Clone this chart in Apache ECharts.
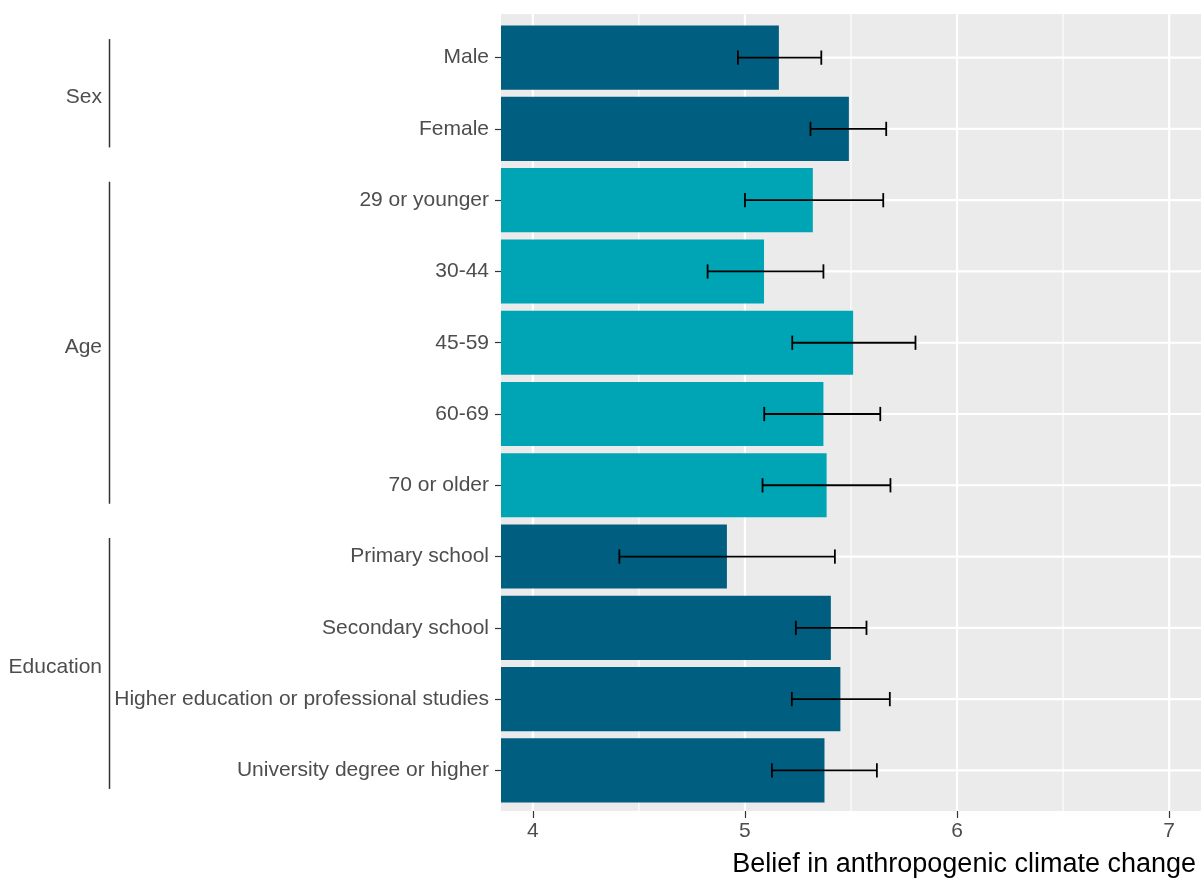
<!DOCTYPE html>
<html>
<head>
<meta charset="utf-8">
<script src="https://cdn.jsdelivr.net/npm/echarts@6/dist/echarts.min.js"></script>
<style>
html,body{margin:0;padding:0;background:#fff;}
#chart{width:1201px;height:878px;}
</style>
</head>
<body>
<div id="chart"></div>
<script>
// ---- data ----
const categories = ["Male","Female","29 or younger","30-44","45-59","60-69","70 or older","Primary school","Secondary school","Higher education or professional studies","University degree or higher"];
const groupOfCategory = ["Sex","Sex","Age","Age","Age","Age","Age","Education","Education","Education","Education"];
const meanValues = [5.16, 5.49, 5.32, 5.09, 5.51, 5.37, 5.385, 4.915, 5.405, 5.45, 5.375];
const lowerCI   = [4.967, 5.309, 5.00, 4.824, 5.223, 5.091, 5.083, 4.408, 5.240, 5.221, 5.127];
const upperCI   = [5.360, 5.666, 5.652, 5.370, 5.804, 5.638, 5.686, 5.424, 5.573, 5.683, 5.622];
const groups = ["Sex","Age","Education"];
const xTickValues = [4,5,6,7];
const xMinorValues = [4.5,5.5,6.5];
const xMin = 3.85, xMax = 7.15;
const xTitle = "Belief in anthropogenic climate change";

const groupColors = {"Sex":"#005F80","Age":"#00A5B5","Education":"#005F80"};
const FONT = "Liberation Sans, Arial, sans-serif";

const chart = echarts.init(document.getElementById('chart'), null, {renderer:'canvas'});

const option = {
  animation: false,
  backgroundColor: '#ffffff',
  title: {
    text: xTitle, right: 0, top: 846,
    textStyle: {fontFamily: FONT, fontSize: 27, fontWeight: 'normal', color: '#000'}
  },
  grid: [
    {left: 501, right: 0, top: 14, height: 797, show: true, backgroundColor: '#EBEBEB', borderWidth: 0, containLabel: false},
    {left: 501, right: 0, top: 22, height: 784, show: false, containLabel: false}
  ],
  xAxis: [
    {type: 'value', gridIndex: 0, min: xMin, max: xMax,
     axisLine: {show: false},
     axisTick: {show: true, customValues: xTickValues, length: 7, lineStyle: {color: '#333', width: 1.2}},
     axisLabel: {show: true, customValues: xTickValues, color: '#4d4d4d', fontSize: 21, fontFamily: FONT, margin: 10},
     splitLine: {show: false}},
    {type: 'value', gridIndex: 1, min: xMin, max: xMax, show: false, splitLine: {show: false}}
  ],
  yAxis: [
    {type: 'value', gridIndex: 0, min: 0, max: 1, show: false, splitLine: {show: false}},
    {type: 'category', gridIndex: 1, data: categories, inverse: true, boundaryGap: true,
     axisLine: {show: false},
     axisTick: {show: true, alignWithLabel: true, length: 6, lineStyle: {color: '#333', width: 1.2}},
     axisLabel: {color: '#4d4d4d', fontSize: 21, fontFamily: FONT, margin: 12},
     splitLine: {show: false}}
  ],
  series: [
    { // vertical gridlines
      type: 'custom', xAxisIndex: 0, yAxisIndex: 0, z: 1, silent: true,
      data: xTickValues.map(v => [v, 1]).concat(xMinorValues.map(v => [v, 0])),
      renderItem: function(params, api) {
        const v = api.value(0), major = api.value(1) === 1;
        const p0 = api.coord([v, 0]), p1 = api.coord([v, 1]);
        return {type: 'line', shape: {x1: p0[0], y1: p0[1], x2: p1[0], y2: p1[1]},
                style: {stroke: '#ffffff', lineWidth: major ? 2.2 : 1.1}};
      }
    },
    { // horizontal gridlines at category centres
      type: 'custom', xAxisIndex: 1, yAxisIndex: 1, z: 1, silent: true,
      data: categories.map((c, i) => [xMin, i]),
      renderItem: function(params, api) {
        const i = api.value(1);
        const p0 = api.coord([xMin, i]), p1 = api.coord([xMax, i]);
        return {type: 'line', shape: {x1: p0[0], y1: p0[1], x2: p1[0], y2: p1[1]},
                style: {stroke: '#ffffff', lineWidth: 2.2}};
      }
    },
    {
      type: 'bar', xAxisIndex: 1, yAxisIndex: 1, z: 2,
      barWidth: '90%',
      data: meanValues.map((v, i) => ({value: v, itemStyle: {color: groupColors[groupOfCategory[i]]}}))
    },
    { // error bars
      type: 'custom', xAxisIndex: 1, yAxisIndex: 1, z: 3, silent: true,
      data: categories.map((c, i) => [lowerCI[i], upperCI[i], i]),
      renderItem: function(params, api) {
        const lo = api.value(0), hi = api.value(1), i = api.value(2);
        const a = api.coord([lo, i]), b = api.coord([hi, i]);
        const band = api.size([0, 1])[1];
        const h = band * 0.1;
        const st = {stroke: '#000', lineWidth: 1.8};
        return {type: 'group', children: [
          {type: 'line', shape: {x1: a[0], y1: a[1], x2: b[0], y2: b[1]}, style: st},
          {type: 'line', shape: {x1: a[0], y1: a[1]-h, x2: a[0], y2: a[1]+h}, style: st},
          {type: 'line', shape: {x1: b[0], y1: b[1]-h, x2: b[0], y2: b[1]+h}, style: st}
        ]};
      }
    }
  ]
};
chart.setOption(option);

// group brackets, positioned from the category axis
const yc = i => chart.convertToPixel({yAxisIndex: 1}, categories[i]);
const step = yc(1) - yc(0);
const graphics = [];
groups.forEach(g => {
  const idx = [];
  groupOfCategory.forEach((gg, i) => { if (gg === g) idx.push(i); });
  const y0 = yc(idx[0]) - 0.26 * step;
  const y1 = yc(idx[idx.length - 1]) + 0.26 * step;
  graphics.push({type: 'line', shape: {x1: 109.5, y1: y0, x2: 109.5, y2: y1},
                 style: {stroke: '#333', lineWidth: 1.5}});
  graphics.push({type: 'text', x: 102, y: (y0 + y1) / 2 + 4,
                 style: {text: g, fill: '#4d4d4d', font: '21px ' + FONT, textAlign: 'right', textVerticalAlign: 'middle'}});
});
chart.setOption({graphic: graphics});
</script>
</body>
</html>
